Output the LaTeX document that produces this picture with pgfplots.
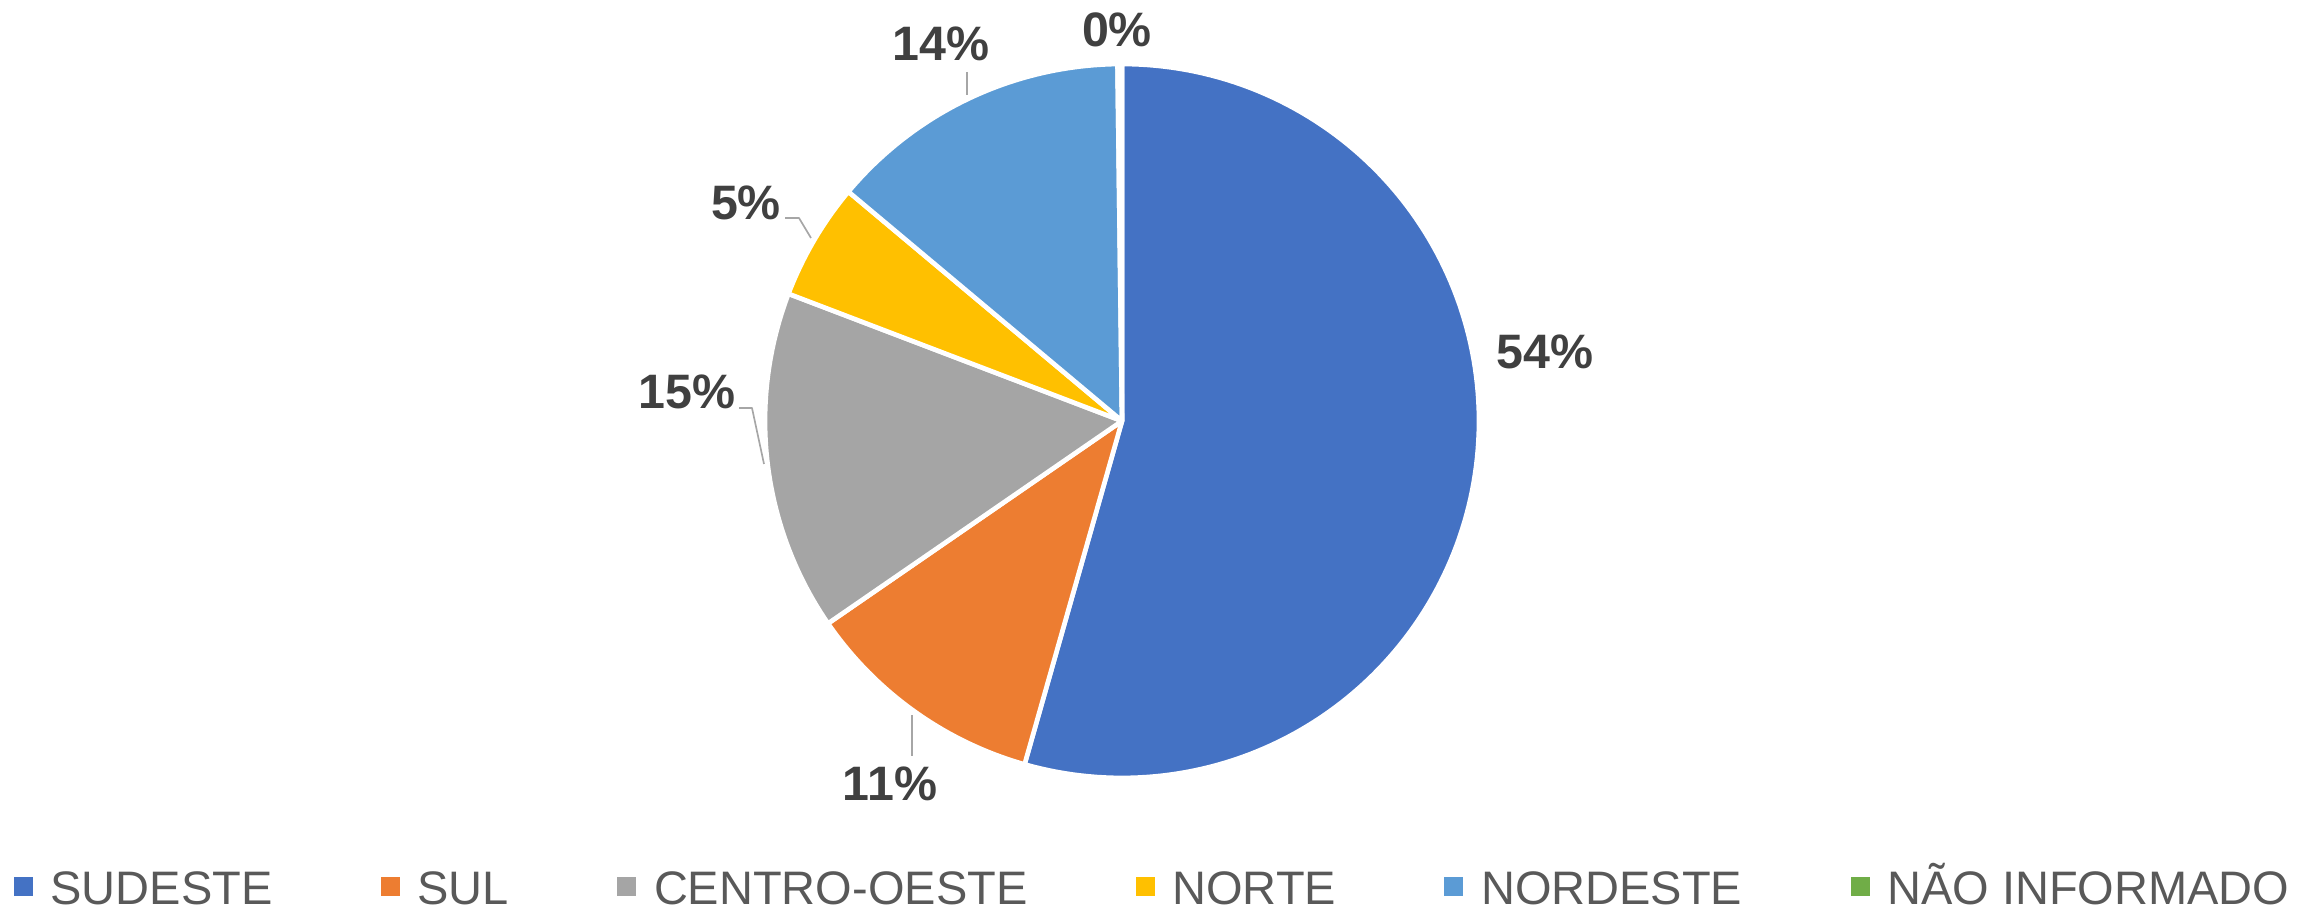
\documentclass[border=0pt]{standalone}
\usepackage{pgfplots}
\pgfplotsset{compat=1.18}
\usepackage{fontspec}
\setmainfont{Liberation Sans}
\definecolor{cSud}{HTML}{4472C4}
\definecolor{cSul}{HTML}{ED7D31}
\definecolor{cCO}{HTML}{A5A5A5}
\definecolor{cNor}{HTML}{FFC000}
\definecolor{cNE}{HTML}{5B9BD5}
\definecolor{cNI}{HTML}{70AD47}
\definecolor{lblText}{HTML}{404040}
\definecolor{legText}{HTML}{595959}
\definecolor{leader}{HTML}{A6A6A6}
% shares (percent), clockwise from 12 o'clock
% SUDESTE 54.4, SUL 11.0, CENTRO-OESTE 15.4, NORTE 5.3, NORDESTE 13.7, NAO INFORMADO 0.2
% cumulative angles (deg): 0, 195.84, 235.44, 290.88, 309.96, 359.28, 360
\begin{document}
\begin{tikzpicture}
\begin{axis}[
  width=694.8pt, height=273pt, scale only axis,
  xmin=0, xmax=2316, ymin=0, ymax=910,
  hide axis, clip=false,
  legend columns=6,
  legend style={at={(axis cs:1155,23)}, anchor=center, draw=none, fill=none,
    font=\fontsize{14.1}{16}\selectfont, text=legText, inner sep=0pt,
    nodes={text height=10.3pt, text depth=0pt},
    /tikz/every even column/.append style={column sep=30.5pt}},
  legend image code/.code={\path[#1, draw=none, fill=none, use as bounding box] (0pt,-2.85pt) rectangle (9pt,2.85pt);
    \fill[#1, draw=none] (0pt,-2.85pt) rectangle (5.7pt,2.85pt);},
  every axis plot/.append style={draw=white, line width=1.4pt, line join=round},
]
\addplot[fill=cSud, domain=0:195.84, samples=150, variable=\t] ({1122+357*sin(t)},{489+357*cos(t)}) -- (1122,489) -- cycle;
\addlegendentry{SUDESTE}
\addplot[fill=cSul, domain=195.84:235.44, samples=40, variable=\t] ({1122+357*sin(t)},{489+357*cos(t)}) -- (1122,489) -- cycle;
\addlegendentry{SUL}
\addplot[fill=cCO, domain=235.44:290.88, samples=50, variable=\t] ({1122+357*sin(t)},{489+357*cos(t)}) -- (1122,489) -- cycle;
\addlegendentry{CENTRO-OESTE}
\addplot[fill=cNor, domain=290.88:309.96, samples=20, variable=\t] ({1122+357*sin(t)},{489+357*cos(t)}) -- (1122,489) -- cycle;
\addlegendentry{NORTE}
\addplot[fill=cNE, domain=309.96:359.28, samples=50, variable=\t] ({1122+357*sin(t)},{489+357*cos(t)}) -- (1122,489) -- cycle;
\addlegendentry{NORDESTE}
\addplot[fill=cNI, domain=359.28:360, samples=3, variable=\t] ({1122+357*sin(t)},{489+357*cos(t)}) -- (1122,489) -- cycle;
\addlegendentry{NÃO INFORMADO}
% leader lines
\addplot[forget plot, draw=leader, line width=0.5pt] coordinates {(967,838) (967,815)};
\addplot[forget plot, draw=leader, line width=0.5pt] coordinates {(785,692) (799,692) (811,672)};
\addplot[forget plot, draw=leader, line width=0.5pt] coordinates {(739,502) (752,502) (764,446)};
\addplot[forget plot, draw=leader, line width=0.5pt] coordinates {(912,195) (912,154)};
% data labels
\begin{scope}[every node/.style={font=\bfseries\fontsize{14.5}{16}\selectfont, text=lblText, inner sep=0pt, anchor=center}]
\node at (axis cs:1545,558) {54\%};
\node at (axis cs:890,126) {11\%};
\node at (axis cs:687,518) {15\%};
\node at (axis cs:746,707) {5\%};
\node at (axis cs:941,866) {14\%};
\node at (axis cs:1117,880) {0\%};
\end{scope}
\end{axis}
\pgfresetboundingbox
\path[use as bounding box] (current axis.south west) rectangle (current axis.north east);
\end{tikzpicture}
\end{document}
